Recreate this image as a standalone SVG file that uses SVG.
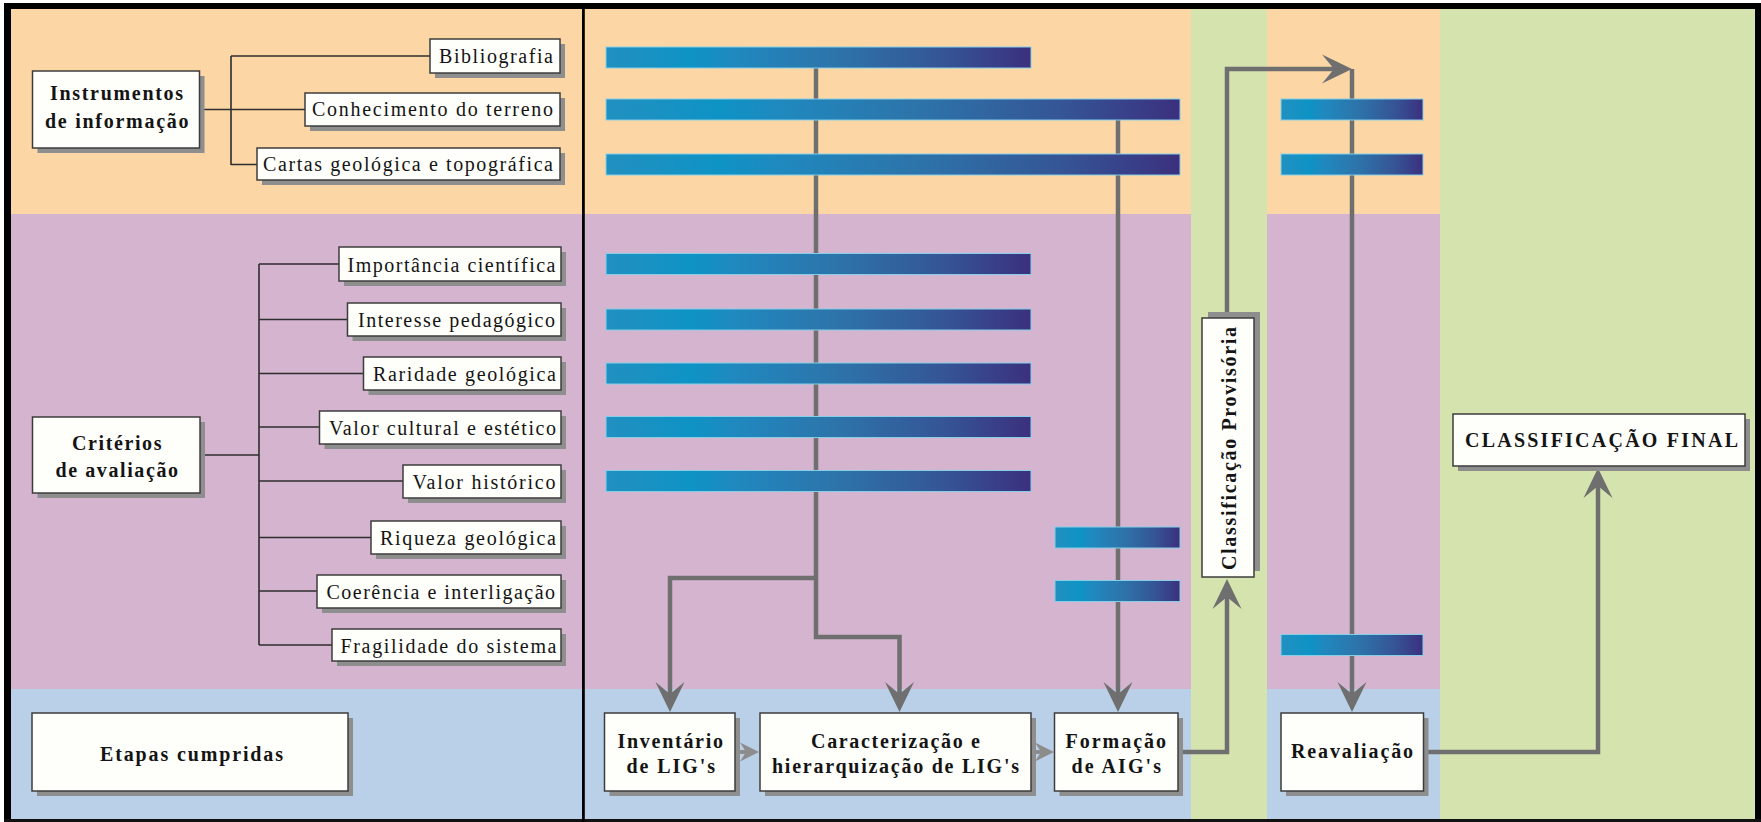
<svg xmlns="http://www.w3.org/2000/svg" width="1761" height="822" viewBox="0 0 1761 822">
<style>
.bx{fill:#fefefb;stroke:#3c3c3c;stroke-width:1.5}
.sh{fill:#8e8e8e}
.tr{fill:none;stroke:#2e2e2e;stroke-width:1.6}
.cn{fill:none;stroke:#6f6f6f;stroke-width:4.5}
.cs{fill:none;stroke:#8c8c8c;stroke-width:4}
.bar{fill:url(#bg);stroke:#86cde6;stroke-width:1}
.t{font-family:"Liberation Serif","Times New Roman",serif;font-size:20px;fill:#141414}
.b{font-family:"Liberation Serif","Times New Roman",serif;font-size:20px;font-weight:bold;fill:#141414}
</style>
<defs>
<linearGradient id="bg" x1="0" y1="0" x2="1" y2="0">
<stop offset="0" stop-color="#2190c0"/>
<stop offset="0.2" stop-color="#0e93c5"/>
<stop offset="0.3" stop-color="#1f89bf"/>
<stop offset="0.55" stop-color="#2d73a9"/>
<stop offset="0.8" stop-color="#355496"/>
<stop offset="1" stop-color="#3b307e"/>
</linearGradient>
<marker id="ah" markerUnits="userSpaceOnUse" markerWidth="34" markerHeight="32" viewBox="-22 -16 34 32" refX="0" refY="0" orient="auto">
<path d="M10,0 L-20,-14.5 L-8,0 L-20,14.5 Z" fill="#6f6f6f"/>
</marker>
<marker id="as" markerUnits="userSpaceOnUse" markerWidth="24" markerHeight="22" viewBox="-14 -11 24 22" refX="0" refY="0" orient="auto">
<path d="M8,0 L-11,-9.5 L-5,0 L-11,9.5 Z" fill="#8c8c8c"/>
</marker>
</defs>

<g id="background">
<rect x="0" y="0" width="1761" height="822" fill="#ffffff"/>
<rect x="10" y="8" width="1746" height="207" fill="#fdd6a6"/>
<rect x="10" y="214" width="1746" height="476" fill="#d4b4cf"/>
<rect x="10" y="689" width="1746" height="132" fill="#b9d0e8"/>
<rect x="1191" y="8" width="76" height="813" fill="#d5e3ae"/>
<rect x="1440" y="8" width="316" height="813" fill="#d5e3ae"/>
<rect x="4" y="3" width="1756" height="6" fill="#000"/>
<rect x="4" y="3" width="7" height="819" fill="#000"/>
<rect x="1755" y="3" width="6" height="819" fill="#000"/>
<rect x="4" y="819" width="1757" height="3" fill="#111"/>
<rect x="582" y="3" width="2.8" height="819" fill="#000"/>
</g>

<g id="connectors">
<path class="tr" d="M231,56 V165 M231,56 H430 M199,109.5 H305 M231,164.5 H257"/>
<path class="tr" d="M259,264 V645 M200,455 H259 M259,264 H339 M259,319.5 H347.5 M259,373.5 H363.5 M259,427 H319.5 M259,481 H403 M259,537.5 H371 M259,591 H317 M259,645 H332"/>
<path class="cn" d="M816,68 V637 H899.5 V702" marker-end="url(#ah)"/>
<path class="cn" d="M816,578 H670 V702" marker-end="url(#ah)"/>
<path class="cn" d="M1118,120 V702" marker-end="url(#ah)"/>
<path class="cn" d="M1178,752 H1227 V589" marker-end="url(#ah)"/>
<path class="cn" d="M1227,318 V69 H1342" marker-end="url(#ah)"/>
<path class="cn" d="M1352,69 V702" marker-end="url(#ah)"/>
<path class="cn" d="M1423,752 H1598 V478" marker-end="url(#ah)"/>
<path class="cs" d="M736,752 H751" marker-end="url(#as)"/>
<path class="cs" d="M1032,752 H1046" marker-end="url(#as)"/>
</g>

<g id="bars">
<rect class="bar" x="606" y="47" width="425" height="21"/>
<rect class="bar" x="606" y="99" width="574" height="21"/>
<rect class="bar" x="606" y="154" width="574" height="21"/>
<rect class="bar" x="1281" y="99" width="142" height="21"/>
<rect class="bar" x="1281" y="154" width="142" height="21"/>
<rect class="bar" x="606" y="253.5" width="425" height="21"/>
<rect class="bar" x="606" y="309" width="425" height="21"/>
<rect class="bar" x="606" y="363" width="425" height="21"/>
<rect class="bar" x="606" y="416.5" width="425" height="21"/>
<rect class="bar" x="606" y="470.5" width="425" height="21"/>
<rect class="bar" x="1055" y="527" width="125" height="21"/>
<rect class="bar" x="1055" y="580.5" width="125" height="21"/>
<rect class="bar" x="1281" y="634.5" width="142" height="21"/>
</g>

<g id="n-instrumentos">
<rect class="sh" x="37.5" y="76" width="167" height="77"/>
<rect class="bx" x="32.5" y="71" width="167" height="77"/>
<text class="b" x="50" y="100" textLength="133" lengthAdjust="spacing">Instrumentos</text>
<text class="b" x="45" y="128" textLength="143.5" lengthAdjust="spacing">de informação</text>
</g>
<g id="n-bibliografia">
<rect class="sh" x="435" y="44" width="130" height="34"/>
<rect class="bx" x="430" y="39" width="130" height="34"/>
<text class="t" x="439" y="63" textLength="114" lengthAdjust="spacing">Bibliografia</text>
</g>
<g id="n-conhecimento">
<rect class="sh" x="310" y="98" width="255" height="33"/>
<rect class="bx" x="305" y="93" width="255" height="33"/>
<text class="t" x="312" y="116" textLength="241" lengthAdjust="spacing">Conhecimento do terreno</text>
</g>
<g id="n-cartas">
<rect class="sh" x="262" y="153" width="303" height="32"/>
<rect class="bx" x="257" y="148" width="303" height="32"/>
<text class="t" x="263" y="171" textLength="290" lengthAdjust="spacing">Cartas geológica e topográfica</text>
</g>

<g id="n-criterios">
<rect class="sh" x="37.5" y="422" width="167.5" height="76"/>
<rect class="bx" x="32.5" y="417" width="167.5" height="76"/>
<text class="b" x="72" y="450" textLength="89.5" lengthAdjust="spacing">Critérios</text>
<text class="b" x="55.5" y="477" textLength="122.5" lengthAdjust="spacing">de avaliação</text>
</g>
<g id="n-importancia">
<rect class="sh" x="344" y="252" width="222" height="34"/>
<rect class="bx" x="339" y="247" width="222" height="34"/>
<text class="t" x="347.5" y="271.5" textLength="208" lengthAdjust="spacing">Importância científica</text>
</g>
<g id="n-interesse">
<rect class="sh" x="352.5" y="308" width="213.5" height="33"/>
<rect class="bx" x="347.5" y="303" width="213.5" height="33"/>
<text class="t" x="358" y="327" textLength="197" lengthAdjust="spacing">Interesse pedagógico</text>
</g>
<g id="n-raridade">
<rect class="sh" x="368.5" y="362" width="197.5" height="33"/>
<rect class="bx" x="363.5" y="357" width="197.5" height="33"/>
<text class="t" x="373" y="381" textLength="183" lengthAdjust="spacing">Raridade geológica</text>
</g>
<g id="n-valor-cultural">
<rect class="sh" x="324.5" y="416" width="241.5" height="33"/>
<rect class="bx" x="319.5" y="411" width="241.5" height="33"/>
<text class="t" x="329" y="434.5" textLength="227" lengthAdjust="spacing">Valor cultural e estético</text>
</g>
<g id="n-valor-historico">
<rect class="sh" x="408" y="470" width="158" height="33"/>
<rect class="bx" x="403" y="465" width="158" height="33"/>
<text class="t" x="412.5" y="488.5" textLength="143" lengthAdjust="spacing">Valor histórico</text>
</g>
<g id="n-riqueza">
<rect class="sh" x="376" y="526" width="190" height="33"/>
<rect class="bx" x="371" y="521" width="190" height="33"/>
<text class="t" x="380" y="545" textLength="176" lengthAdjust="spacing">Riqueza geológica</text>
</g>
<g id="n-coerencia">
<rect class="sh" x="322" y="580" width="244" height="33"/>
<rect class="bx" x="317" y="575" width="244" height="33"/>
<text class="t" x="326.5" y="598.5" textLength="228.5" lengthAdjust="spacing">Coerência e interligação</text>
</g>
<g id="n-fragilidade">
<rect class="sh" x="337" y="634" width="229" height="32"/>
<rect class="bx" x="332" y="629" width="229" height="32"/>
<text class="t" x="340.5" y="652.5" textLength="216" lengthAdjust="spacing">Fragilidade do sistema</text>
</g>

<g id="n-etapas">
<rect class="sh" x="37" y="718" width="316" height="78"/>
<rect class="bx" x="32" y="713" width="316" height="78"/>
<text class="b" x="100" y="761" textLength="183" lengthAdjust="spacing">Etapas cumpridas</text>
</g>
<g id="n-inventario">
<rect class="sh" x="609.5" y="718" width="130.5" height="78"/>
<rect class="bx" x="604.5" y="713" width="130.5" height="78"/>
<text class="b" x="617.5" y="748" textLength="105.5" lengthAdjust="spacing">Inventário</text>
<text class="b" x="626.5" y="773" textLength="88.5" lengthAdjust="spacing">de LIG's</text>
</g>
<g id="n-caracterizacao">
<rect class="sh" x="765" y="718" width="271" height="78"/>
<rect class="bx" x="760" y="713" width="271" height="78"/>
<text class="b" x="811" y="748" textLength="169" lengthAdjust="spacing">Caracterização e</text>
<text class="b" x="772" y="773" textLength="247" lengthAdjust="spacing">hierarquização de LIG's</text>
</g>
<g id="n-formacao">
<rect class="sh" x="1059.5" y="718" width="123.5" height="78"/>
<rect class="bx" x="1054.5" y="713" width="123.5" height="78"/>
<text class="b" x="1065.5" y="748" textLength="100.5" lengthAdjust="spacing">Formação</text>
<text class="b" x="1071.5" y="773" textLength="89.5" lengthAdjust="spacing">de AIG's</text>
</g>
<g id="n-classificacao-provisoria">
<rect class="sh" x="1208" y="312" width="52" height="259"/>
<rect class="bx" x="1202" y="318" width="52" height="259"/>
<text class="b" transform="translate(1236,570) rotate(-90)" x="0" y="0" textLength="243" lengthAdjust="spacing">Classificação Provisória</text>
</g>
<g id="n-reavaliacao">
<rect class="sh" x="1286" y="718" width="142.5" height="78"/>
<rect class="bx" x="1281" y="713" width="142.5" height="78"/>
<text class="b" x="1291" y="758" textLength="122" lengthAdjust="spacing">Reavaliação</text>
</g>
<g id="n-classificacao-final">
<rect class="sh" x="1458" y="419" width="292" height="52"/>
<rect class="bx" x="1453" y="414" width="292" height="52"/>
<text class="b" x="1465" y="447" textLength="273" lengthAdjust="spacing">CLASSIFICAÇÃO FINAL</text>
</g>
</svg>
